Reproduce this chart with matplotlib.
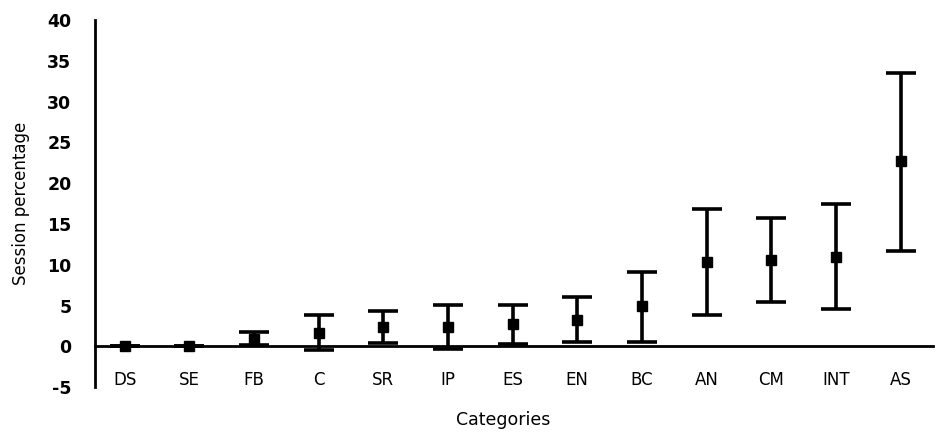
import numpy as np
import matplotlib
matplotlib.use("Agg")
import matplotlib.pyplot as plt

plt.rcParams['axes.unicode_minus'] = False

# categories and values
categories = ["DS", "SE", "FB", "C", "SR", "IP", "ES", "EN", "BC", "AN", "CM", "INT", "AS"]
means = [0.0, 0.0, 0.9, 1.7, 2.4, 2.4, 2.7, 3.2, 4.9, 10.3, 10.55, 11.0, 22.7]
upper = [0.0, 0.0, 1.8, 3.9, 4.3, 5.1, 5.1, 6.1, 9.1, 16.8, 15.7, 17.5, 33.5]
lower = [0.0, 0.0, 0.2, -0.4, 0.4, -0.3, 0.3, 0.6, 0.6, 3.8, 5.4, 4.6, 11.7]

x = np.arange(len(categories))
m = np.array(means)
yerr = [m - np.array(lower), np.array(upper) - m]

fig = plt.figure(figsize=(9.5, 4.38), dpi=100)
ax = fig.add_axes([0.1, 0.116, 0.882, 0.838])

ax.errorbar(x, m, yerr=yerr, fmt='s', color='black', ecolor='black',
            markersize=7.5, elinewidth=2.6, capsize=11, capthick=2.6, zorder=3)

ax.set_ylim(-5, 40)
ax.set_xlim(-0.46, 12.5)
ax.set_yticks(np.arange(-5, 41, 5))
ax.set_xticks(x)
ax.set_xticklabels(categories)

ax.spines['top'].set_visible(False)
ax.spines['right'].set_visible(False)
ax.spines['bottom'].set_position(('data', 0))
ax.spines['bottom'].set_linewidth(2)
ax.spines['left'].set_linewidth(2)

ax.tick_params(axis='y', length=0, pad=17, labelsize=12.5)
ax.tick_params(axis='x', length=0, pad=18, labelsize=12)
for lab in ax.get_yticklabels():
    lab.set_fontweight('bold')

ax.set_ylabel("Session percentage", fontsize=12, labelpad=12)
fig.text(0.53, 0.04, "Categories", ha='center', va='center', fontsize=12.5)

fig.savefig("out.png", dpi=100)
